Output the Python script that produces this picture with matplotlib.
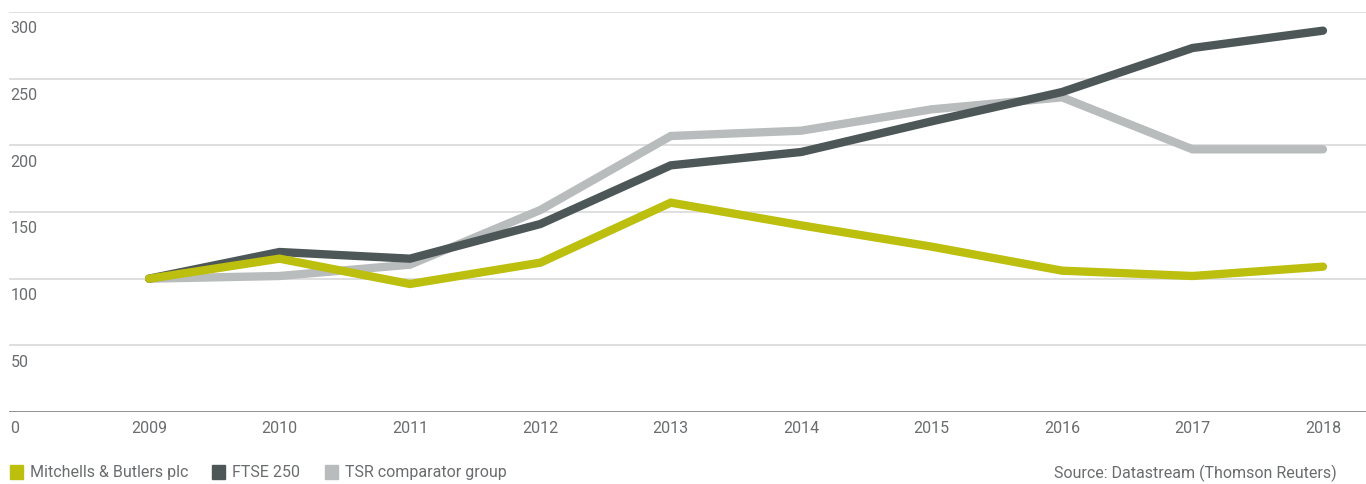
import matplotlib.pyplot as plt
from matplotlib.patches import Rectangle

# TSR index, 2009 = 100
years = [2009, 2010, 2011, 2012, 2013, 2014, 2015, 2016, 2017, 2018]
mab = [100, 115, 96, 112, 157, 140, 124, 106, 102, 109]
ftse250 = [100, 120, 115, 141, 185, 195, 218, 240, 273, 286]
tsr_group = [100, 102, 110.5, 151.5, 207, 211, 227, 236, 197, 197]

names = ['Mitchells & Butlers plc', 'FTSE 250', 'TSR comparator group']
colours = ['#bcbf0e', '#4d5757', '#b9bcbc']
yticks = [0, 50, 100, 150, 200, 250, 300]

plt.rcParams['font.family'] = ['Roboto', 'DejaVu Sans']
txt = '#6a6c6e'
fw = 'normal'
fs = 11.5

fig = plt.figure(figsize=(13.66, 4.85), dpi=100)
ax = fig.add_axes([9 / 1366, 72 / 485, 1 - 9 / 1366, 400 / 485])

# grey first, yellow on top
for vals, c in zip([tsr_group, ftse250, mab], colours[::-1]):
    ax.plot(years, vals, color=c, lw=6, solid_capstyle='round',
            solid_joinstyle='miter', zorder=3, clip_on=False)

ax.set_xlim(2007.926, 2018.33)
ax.set_ylim(0, 300)
for v in yticks[1:]:
    ax.axhline(v, color='#dcdcdc', lw=1.3, zorder=1)
ax.axhline(0, color='#85878a', lw=2, zorder=2)

for s in ax.spines.values():
    s.set_visible(False)
ax.set_xticks([])
ax.set_yticks([])

for v in yticks:
    ax.annotate(str(v), xy=(0, v), xycoords=('axes fraction', 'data'),
                xytext=(1, -6), textcoords='offset points',
                ha='left', va='top', fontsize=fs, color=txt, fontweight=fw)
for yr in years:
    ax.annotate(str(yr), xy=(yr, 0), xycoords='data',
                xytext=(0, -6), textcoords='offset points',
                ha='center', va='top', fontsize=fs, color=txt, fontweight=fw)

# legend row
lx = [10, 212, 325]
for x, name, c in zip(lx, names, colours):
    fig.patches.append(Rectangle((x / 1366, 5 / 485), 13 / 1366, 14 / 485,
                                 transform=fig.transFigure, color=c))
    fig.text((x + 20) / 1366, 12 / 485, name, ha='left', va='center',
             fontsize=fs, color=txt, fontweight=fw)
fig.text(1337 / 1366, 12 / 485, 'Source: Datastream (Thomson Reuters)',
         ha='right', va='center', fontsize=fs, color=txt, fontweight=fw)

fig.savefig('out.png', dpi=100)
